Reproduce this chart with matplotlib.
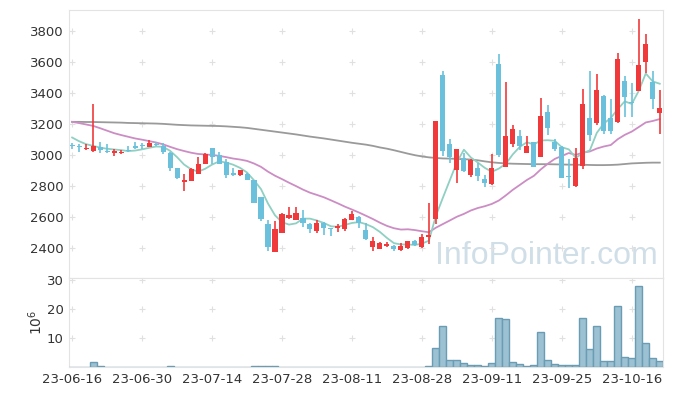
import matplotlib
matplotlib.use('Agg')
import matplotlib.pyplot as plt
import numpy as np
import pandas as pd

# OHLC daily prices
opens = [3066, 3055, 3037, 3028, 3052, 3021, 3015, 3009, 3030, 3060,
         3060, 3052, 3071, 3055, 3013, 2916, 2826, 2834, 2879, 2944,
         3043, 2996, 2953, 2886, 2871, 2877, 2839, 2727, 2555, 2376,
         2499, 2594, 2581, 2592, 2555, 2512, 2563, 2527, 2529, 2525,
         2581, 2600, 2516, 2408, 2396, 2415, 2413, 2389, 2398, 2445,
         2408, 2469, 2589, 3516, 3071, 2903, 2979, 2871, 2918, 2845,
         2813, 3587, 2921, 3071, 3123, 3015, 3083, 2989, 3277, 3083,
         3054, 2862, 2802, 2929, 3241, 3208, 3381, 3241, 3209, 3477,
         3342, 3415, 3602, 3473, 3267]
highs = [3079, 3069, 3071, 3327, 3086, 3069, 3037, 3034, 3060, 3083,
         3075, 3095, 3081, 3079, 3021, 2918, 2878, 2914, 2989, 3013,
         3047, 3021, 2972, 2914, 2905, 2886, 2839, 2731, 2581, 2574,
         2624, 2667, 2662, 2643, 2559, 2577, 2568, 2531, 2555, 2592,
         2641, 2606, 2559, 2473, 2438, 2437, 2417, 2430, 2447, 2449,
         2490, 2688, 3219, 3542, 3101, 3039, 3011, 2972, 2947, 2871,
         3006, 3652, 3469, 3194, 3161, 3123, 3086, 3366, 3321, 3101,
         3060, 2972, 3043, 3428, 3538, 3521, 3387, 3359, 3656, 3510,
         3463, 3875, 3779, 3540, 3419]
lows = [3041, 3021, 3032, 3019, 3013, 3011, 2994, 3004, 3021, 3041,
        3041, 3050, 3056, 3006, 2893, 2845, 2770, 2832, 2875, 2942,
        2940, 2940, 2850, 2862, 2865, 2837, 2688, 2576, 2380, 2372,
        2495, 2585, 2577, 2537, 2495, 2499, 2484, 2477, 2503, 2512,
        2577, 2529, 2452, 2378, 2391, 2404, 2381, 2378, 2393, 2413,
        2402, 2424, 2555, 2990, 2947, 2817, 2887, 2856, 2834, 2796,
        2804, 2989, 2921, 3054, 3032, 3011, 2925, 2985, 3129, 3028,
        2854, 2785, 2796, 2912, 3090, 3194, 3135, 3135, 3205, 3247,
        3247, 3415, 3527, 3295, 3135]
closes = [3055, 3051, 3041, 3058, 3030, 3017, 3028, 3021, 3026, 3047,
          3056, 3077, 3064, 3016, 2918, 2852, 2839, 2910, 2942, 3006,
          2989, 2944, 2873, 2873, 2903, 2839, 2692, 2589, 2408, 2523,
          2619, 2613, 2628, 2561, 2523, 2559, 2531, 2523, 2544, 2587,
          2619, 2559, 2458, 2445, 2434, 2426, 2391, 2415, 2445, 2419,
          2469, 2484, 3219, 3028, 2989, 3039, 2893, 2966, 2865, 2817,
          2914, 2996, 3123, 3168, 3060, 3060, 2925, 3252, 3176, 3039,
          2854, 2856, 2979, 3327, 3129, 3419, 3157, 3157, 3617, 3376,
          3335, 3581, 3716, 3359, 3303]
# volume in millions
volume = [0.02, 0.02, 0.02, 1.7, 0.35, 0.02, 0.02, 0.02, 0.02, 0.02,
          0.02, 0.02, 0.02, 0.02, 0.35, 0.02, 0.02, 0.02, 0.02, 0.02,
          0.02, 0.02, 0.02, 0.02, 0.02, 0.02, 0.35, 0.35, 0.35, 0.35,
          0.02, 0.02, 0.02, 0.02, 0.02, 0.02, 0.02, 0.02, 0.02, 0.02,
          0.02, 0.02, 0.02, 0.02, 0.02, 0.02, 0.02, 0.02, 0.02, 0.02,
          0.02, 0.3, 6.55, 14.0, 2.4, 2.4, 1.26, 0.6, 0.6, 0.25,
          1.26, 16.8, 16.4, 1.6, 0.9, 0.25, 0.6, 12.0, 2.3, 0.9,
          0.6, 0.6, 0.6, 16.8, 6.1, 14.0, 2.0, 2.0, 20.9, 3.3,
          3.0, 27.8, 8.2, 3.0, 2.0]

ma5_head = [3112, 3088, 3069, 3058]
ma20_head = [3213, 3205, 3196, 3187, 3172, 3156, 3140, 3128, 3117, 3106,
             3098, 3089, 3080, 3068, 3052, 3037, 3025, 3014, 3006]
ma60 = [3213, 3213, 3212, 3212, 3211, 3210, 3209, 3208, 3206, 3205,
        3204, 3203, 3202, 3200, 3197, 3194, 3192, 3190, 3189, 3188,
        3187, 3186, 3184, 3181, 3178, 3174, 3168, 3162, 3156, 3150,
        3144, 3138, 3132, 3125, 3118, 3112, 3106, 3099, 3092, 3085,
        3078, 3072, 3066, 3058, 3048, 3040, 3030, 3019, 3008, 2998,
        2990, 2984, 2980, 2977, 2976, 2974, 2972, 2970, 2965, 2958,
        2952, 2948, 2945, 2943, 2942, 2941, 2940, 2940, 2940, 2939,
        2938, 2937, 2936, 2936, 2935, 2934, 2934, 2935, 2937, 2941,
        2945, 2947, 2949, 2950, 2950]

tick_pos = [0, 10, 20, 30, 40, 50, 60, 70, 80]
tick_labels = ['23-06-16', '23-06-30', '23-07-14', '23-07-28', '23-08-11',
               '23-08-28', '23-09-11', '23-09-25', '23-10-16']

df = pd.DataFrame({'o': opens, 'h': highs, 'l': lows, 'c': closes, 'v': volume})
x = np.arange(len(df))
ma5 = df['c'].rolling(5).mean().values
ma5[:4] = ma5_head
ma20 = df['c'].rolling(20).mean().values
ma20[:19] = ma20_head

up_col = '#f0393b'
down_col = '#6bc1db'
frame_col = '#e3e3e3'

fig = plt.figure(figsize=(6.73, 3.96), dpi=100)
ax = fig.add_axes([0.1025, 0.298, 0.8825, 0.677])
vax = fig.add_axes([0.1025, 0.0732, 0.8825, 0.2248], sharex=ax)

up = df['c'] >= df['o']
colors = np.where(up, up_col, down_col)
ax.vlines(x, df['l'], df['h'], colors=colors, linewidth=1.2, zorder=3)
body_h = (df['c'] - df['o']).abs().clip(lower=5)
body_b = df[['o', 'c']].min(axis=1)
ax.bar(x, body_h, bottom=body_b, width=0.72, color=colors, zorder=4)

ax.plot(x, ma60, color='#9a9a9a', lw=1.3, zorder=2)
ax.plot(x, ma20, color='#cc8dc4', lw=1.3, zorder=2)
ax.plot(x, ma5, color='#8fd0c2', lw=1.3, zorder=2)

ax.text(0.803, 0.082, 'InfoPointer.com', transform=ax.transAxes, ha='center',
        va='center', fontsize=23, family='Liberation Sans', color='#cfdee7', zorder=0)

ax.set_ylim(2206, 3935)
ax.set_xlim(-0.45, 84.45)
yt = [2400, 2600, 2800, 3000, 3200, 3400, 3600, 3800]
ax.set_yticks(yt)
ax.set_xticks(tick_pos)
ax.tick_params(labelbottom=False)

vax.bar(x, df['v'], width=1.0, color='#9bc1d2', edgecolor='#6a9cb3', linewidth=1, zorder=3)
vax.set_ylim(0, 30.7)
vax.set_yticks([10, 20, 30])
vax.set_xticks(tick_pos)
vax.set_xticklabels(tick_labels)
vax.set_ylabel(r'$10^{6}$', fontsize=10, color='#333333', labelpad=1)

# light grey crosses at the grid intersections
gx, gy = np.meshgrid(tick_pos, yt)
ax.scatter(gx.ravel(), gy.ravel(), marker='+', s=18, color='#e0e0e0', lw=0.8, zorder=1)
gx, gy = np.meshgrid(tick_pos, [10, 20, 30])
vax.scatter(gx.ravel(), gy.ravel(), marker='+', s=18, color='#e0e0e0', lw=0.8, zorder=1)

for a in (ax, vax):
    for s in a.spines.values():
        s.set_color(frame_col)
    a.tick_params(length=0, labelsize=9.5, labelcolor='#333333', pad=4)

plt.savefig('out.png', dpi=100)
